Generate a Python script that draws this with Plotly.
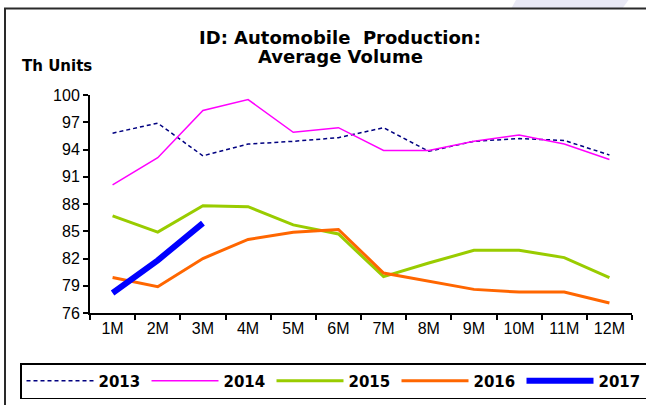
import plotly.graph_objects as go

months = ["1M", "2M", "3M", "4M", "5M", "6M", "7M", "8M", "9M", "10M", "11M", "12M"]
y2013 = [95.8, 96.9, 93.3, 94.6, 94.9, 95.3, 96.4, 93.8, 94.9, 95.2, 95.0, 93.4]
y2014 = [90.1, 93.1, 98.3, 99.5, 95.9, 96.4, 93.9, 93.9, 94.9, 95.6, 94.6, 92.9]
y2015 = [86.7, 84.9, 87.8, 87.7, 85.7, 84.7, 80.0, 81.5, 82.9, 82.9, 82.1, 79.9]
y2016 = [79.9, 78.9, 82.0, 84.1, 84.9, 85.2, 80.4, 79.5, 78.6, 78.3, 78.3, 77.1]
y2017 = [78.2, 81.8, 85.9]
yticks = [76, 79, 82, 85, 88, 91, 94, 97, 100]

FONT = "Liberation Sans, Arial, sans-serif"
BOLD = "DejaVu Sans, Liberation Sans, Arial, sans-serif"

fig = go.Figure()
fig.add_trace(go.Scatter(x=months, y=y2013, name="2013", mode="lines",
                         line=dict(color="#000080", width=1.5, dash="4px,3px")))
fig.add_trace(go.Scatter(x=months, y=y2014, name="2014", mode="lines",
                         line=dict(color="#FF00FF", width=1.5)))
fig.add_trace(go.Scatter(x=months, y=y2015, name="2015", mode="lines",
                         line=dict(color="#99CC00", width=3)))
fig.add_trace(go.Scatter(x=months, y=y2016, name="2016", mode="lines",
                         line=dict(color="#FF6600", width=3)))
fig.add_trace(go.Scatter(x=months[:len(y2017)], y=y2017, name="2017", mode="lines",
                         line=dict(color="#0000FF", width=6)))

L, R, T, B = 90, 14, 95, 92
W, H = 646, 405
pw, ph = W - L - R, H - T - B

def px(x):
    return (x - L) / pw

def py(y):
    return (H - B - y) / ph

shapes = [
    # faint watermark above the frame
    dict(type="path", xref="paper", yref="paper",
         path=f"M {px(517)} {py(-2)} L {px(630)} {py(-2)} L {px(622)} {py(9)} L {px(511)} {py(9)} Z",
         fillcolor="#E9E9F5", line=dict(width=0), layer="below"),
    # outer frame
    dict(type="rect", xref="paper", yref="paper",
         x0=px(5), x1=px(655), y0=py(415), y1=py(8.5),
         line=dict(color="#2a2a2a", width=2), fillcolor="rgba(0,0,0,0)"),
]

fig.update_layout(
    width=W, height=H,
    margin=dict(l=L, r=R, t=T, b=B, autoexpand=False),
    paper_bgcolor="white", plot_bgcolor="white",
    font=dict(family=FONT, size=16, color="black"),
    showlegend=True,
    legend=dict(orientation="h", x=px(20), xanchor="left", y=py(363), yanchor="top",
                bordercolor="black", borderwidth=1.5, bgcolor="white",
                font=dict(family=BOLD, size=15, color="black", weight="bold"),
                entrywidth=43, entrywidthmode="pixels",
                itemwidth=67, tracegroupgap=0),
    shapes=shapes,
    annotations=[
        dict(text="<b>ID: Automobile  Production:</b>", xref="paper", yref="paper",
             x=px(340), y=py(37), xanchor="center", yanchor="middle",
             showarrow=False, font=dict(family=BOLD, size=18, color="black")),
        dict(text="<b>Average Volume</b>", xref="paper", yref="paper",
             x=px(340), y=py(57), xanchor="center", yanchor="middle",
             showarrow=False, font=dict(family=BOLD, size=18, color="black")),
        dict(text="<b>Th Units</b>", xref="paper", yref="paper",
             x=px(20), y=py(66), xanchor="left", yanchor="middle",
             showarrow=False, font=dict(family=BOLD, size=15, color="black")),
    ],
)
fig.update_xaxes(type="category", categoryorder="array", categoryarray=months,
                 range=[-0.5, 11.5], showgrid=False, zeroline=False,
                 showline=True, linecolor="black", linewidth=2,
                 ticks="outside", tickson="boundaries", ticklen=5, tickcolor="black",
                 tickwidth=1.5, tickfont=dict(size=16))
fig.update_yaxes(range=[76, 100], tickvals=yticks, showgrid=False, zeroline=False,
                 showline=True, linecolor="black", linewidth=2,
                 ticks="outside", ticklen=5, tickcolor="black", tickwidth=1.5,
                 tickfont=dict(size=16))

fig.write_html("out.html", config={"displayModeBar": False},
               post_script="document.body.style.margin='0px';document.body.style.overflow='hidden';")
